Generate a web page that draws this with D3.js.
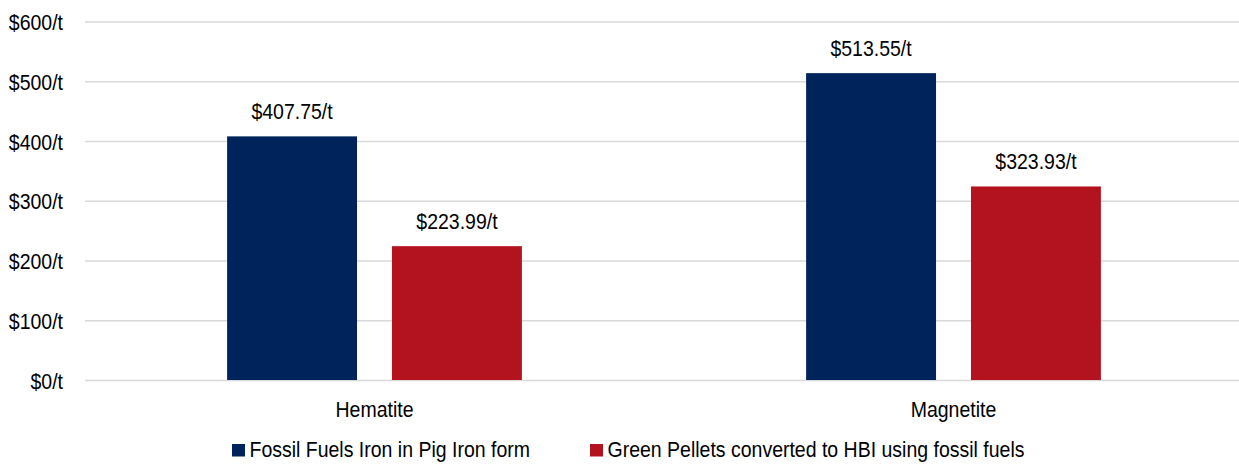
<!DOCTYPE html>
<html>
<head>
<meta charset="utf-8">
<script src="https://cdn.jsdelivr.net/npm/d3@7"></script>
<style>
  html, body { margin: 0; padding: 0; background: #ffffff; }
  svg { display: block; font-family: "Liberation Sans", Arial, sans-serif; }
</style>
</head>
<body>
<svg id="chart" width="1239" height="464"></svg>
<script>
// Cost per tonne by ore type and processing route
const categories = ["Hematite", "Magnetite"];
const seriesNames = ["Fossil Fuels Iron in Pig Iron form", "Green Pellets converted to HBI using fossil fuels"];
const pigIronValues = [407.75, 513.55];
const hbiValues = [223.99, 323.93];
const yTicks = [0, 100, 200, 300, 400, 500, 600];
const seriesColors = ["#00235B", "#B3131E"];

(function () {
  const series = [pigIronValues, hbiValues];
  const rows = categories.map((c, i) => ({
    category: c,
    values: seriesNames.map((s, j) => ({ key: s, value: series[j][i], color: seriesColors[j] }))
  }));

  const svg = d3.select("#chart");
  const plotLeft = 85, plotRight = 1243, plotTop = 21.5, plotBottom = 380;
  const fontSize = 19.5, stretch = 1.12;

  const x0 = d3.scaleBand().domain(categories).range([plotLeft, plotRight]).paddingInner(0).paddingOuter(0);
  const x1 = d3.scaleBand().domain(seriesNames).range([0, x0.bandwidth()])
    .paddingInner(0.212).paddingOuter(0.862);
  const y = d3.scaleLinear().domain([0, 600]).range([plotBottom, plotTop]);

  // value axis with full-width gridlines
  const yAxis = svg.append("g")
    .attr("transform", `translate(${plotLeft},0)`)
    .call(d3.axisLeft(y).tickValues(yTicks).tickFormat(d => `$${d}/t`)
      .tickSize(-(plotRight - plotLeft)).tickPadding(22));
  yAxis.select(".domain").remove();
  yAxis.selectAll("line").attr("stroke", "#d9d9d9").attr("stroke-width", 1.6);
  yAxis.selectAll("text")
    .attr("font-size", fontSize).attr("fill", "#000")
    .attr("font-family", "'Liberation Sans', Arial, sans-serif")
    .attr("dy", "0.37em")
    .attr("transform", `scale(1,${stretch})`);

  // bars
  const groups = svg.append("g").selectAll("g").data(rows).join("g")
    .attr("transform", d => `translate(${x0(d.category)},0)`);

  groups.selectAll("rect").data(d => d.values).join("rect")
    .attr("x", d => x1(d.key))
    .attr("width", x1.bandwidth())
    .attr("y", d => y(d.value))
    .attr("height", d => y(0) - y(d.value))
    .attr("fill", d => d.color);

  // value labels above bars
  groups.selectAll("text").data(d => d.values).join("text")
    .attr("transform", d => `translate(${x1(d.key) + x1.bandwidth() / 2},${y(d.value) - 17}) scale(1,${stretch})`)
    .attr("text-anchor", "middle")
    .attr("font-size", fontSize)
    .attr("fill", "#000")
    .text(d => `$${d.value.toFixed(2)}/t`);

  // category axis
  const xAxis = svg.append("g")
    .attr("transform", `translate(0,${plotBottom})`)
    .call(d3.axisBottom(x0).tickSize(0).tickPadding(0));
  xAxis.select(".domain").remove();
  xAxis.selectAll("text")
    .attr("font-size", fontSize).attr("fill", "#000")
    .attr("font-family", "'Liberation Sans', Arial, sans-serif")
    .attr("y", 0).attr("dy", 0)
    .attr("transform", `translate(0,37) scale(1,${stretch})`);

  // legend
  const legendX = [232, 590];
  const legend = svg.append("g").selectAll("g").data(seriesNames).join("g")
    .attr("transform", (d, i) => `translate(${legendX[i]},444)`);
  legend.append("rect")
    .attr("width", 13).attr("height", 12.5)
    .attr("fill", (d, i) => seriesColors[i]);
  legend.append("text")
    .attr("transform", `translate(17.5,12.7) scale(1,${stretch})`)
    .attr("font-size", fontSize)
    .attr("fill", "#000")
    .text(d => d);
})();
</script>
</body>
</html>
